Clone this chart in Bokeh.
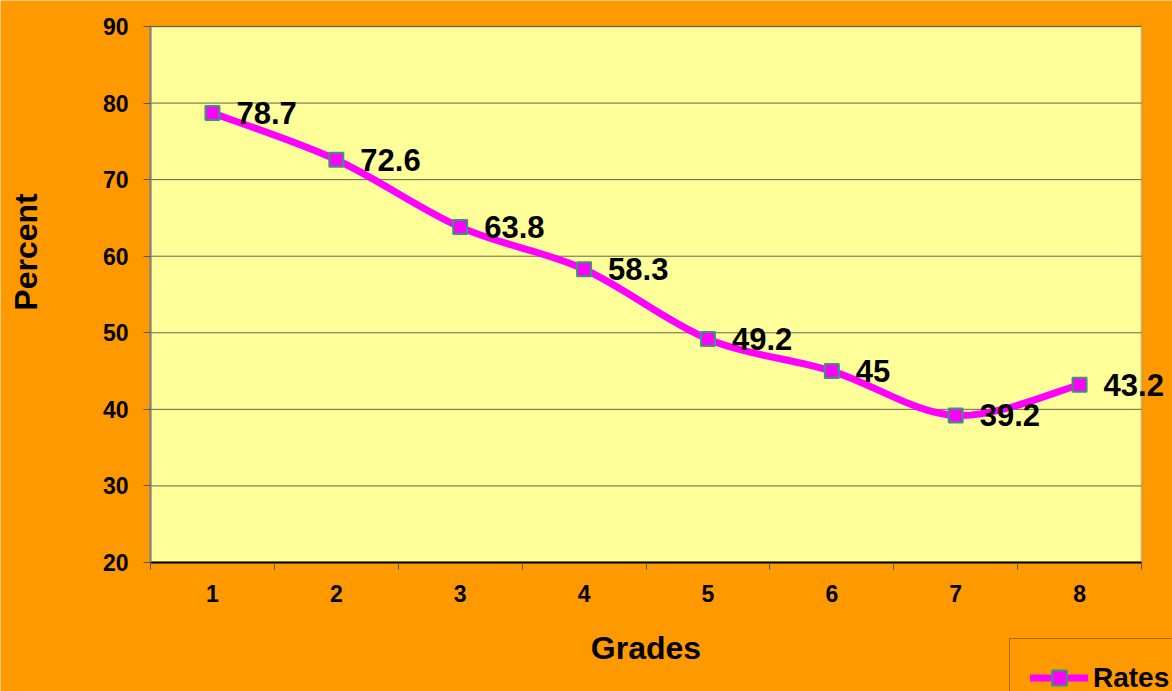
from bokeh.plotting import figure
from bokeh.models import (FixedTicker, LabelSet, ColumnDataSource, Legend, LegendItem,
                          LinearAxis, BoxAnnotation, Range1d)
from bokeh.core.properties import value
from bokeh.embed import file_html
from bokeh.resources import INLINE

# ---- data ----
grades = [1, 2, 3, 4, 5, 6, 7, 8]
rates = [78.7, 72.6, 63.8, 58.3, 49.2, 45, 39.2, 43.2]
x_tick_labels = ["1", "2", "3", "4", "5", "6", "7", "8"]
y_ticks = [20, 30, 40, 50, 60, 70, 80, 90]
series_name = "Rates"
x_title = "Grades"
y_title = "Percent"

# ---- layout / style ----
W, H = 1172, 691
PA_LEFT, PA_RIGHT, PA_TOP, PA_BOTTOM = 150, 1141, 26, 562   # plot-area pixels
X_LO, X_HI = grades[0] - 0.5, grades[-1] + 0.5
Y_LO, Y_HI = y_ticks[0], y_ticks[-1]
PERCENT_CENTER_PX = 251.5

ORANGE = "#FF9900"
PLOT_BG = "#FFFF99"
MAGENTA = "#FF00FF"
MARKER_EDGE = "#339977"
FONT = "Liberation Sans"

px_x = (PA_RIGHT - PA_LEFT) / (X_HI - X_LO)
px_y = (PA_BOTTOM - PA_TOP) / (Y_HI - Y_LO)
x_range = Range1d(X_LO - PA_LEFT / px_x, X_HI + (W - PA_RIGHT) / px_x)
y_range = Range1d(Y_LO - (H - PA_BOTTOM) / px_y, Y_HI + PA_TOP / px_y)

# smoothed (Catmull-Rom style) bezier segments derived from the data
n = len(grades)
seg = dict(x0=[], y0=[], x1=[], y1=[], cx0=[], cy0=[], cx1=[], cy1=[])
for i in range(n - 1):
    pm = max(i - 1, 0)
    pp = min(i + 2, n - 1)
    seg["x0"].append(grades[i]); seg["y0"].append(rates[i])
    seg["x1"].append(grades[i + 1]); seg["y1"].append(rates[i + 1])
    seg["cx0"].append(grades[i] + (grades[i + 1] - grades[pm]) / 6)
    seg["cy0"].append(rates[i] + (rates[i + 1] - rates[pm]) / 6)
    seg["cx1"].append(grades[i + 1] - (grades[pp] - grades[i]) / 6)
    seg["cy1"].append(rates[i + 1] - (rates[pp] - rates[i]) / 6)

p = figure(
    width=W, height=H, frame_width=W, frame_height=H,
    min_border_left=0, min_border_top=0, min_border_right=0, min_border_bottom=0,
    x_range=x_range, y_range=y_range,
    output_backend="svg", toolbar_location=None,
    background_fill_color=ORANGE, border_fill_color=ORANGE,
)
p.outline_line_color = None
p.xgrid.visible = False
p.ygrid.visible = False

# plot area
p.add_layout(BoxAnnotation(left=X_LO, right=X_HI, bottom=Y_LO, top=Y_HI,
                           fill_color=PLOT_BG, fill_alpha=1.0,
                           line_color="#808080", line_width=2.5, level="underlay"))
# horizontal gridlines at the y ticks, limited to the plot area
p.segment(x0=[X_LO] * len(y_ticks), x1=[X_HI] * len(y_ticks), y0=y_ticks, y1=y_ticks,
          line_color="#66664d", line_width=1)

# curve
p.bezier(x0="x0", y0="y0", x1="x1", y1="y1", cx0="cx0", cy0="cy0", cx1="cx1", cy1="cy1",
         source=ColumnDataSource(seg), line_color=MAGENTA, line_width=7, line_cap="round")
# legend-only line sample (a single NaN point draws nothing on the plot)
legend_line = p.line(x=[float("nan")], y=[float("nan")], line_color=MAGENTA, line_width=7,
                     line_cap="round")
src = ColumnDataSource(dict(x=grades, y=rates, lab=[f"{v:g}" for v in rates]))
pts = p.scatter(x="x", y="y", source=src, marker="square", size=14,
                fill_color=MAGENTA, line_color=MARKER_EDGE, line_width=2)

labels = LabelSet(x="x", y="y", text="lab", source=src, x_offset=24, y_offset=0,
                  text_font=value(FONT), text_font_style="bold", text_font_size="31px",
                  text_color="black", text_baseline="middle", text_align="left")
p.add_layout(labels)

# x axis (drawn at y = Y_LO)
xa = p.xaxis[0]
xa.fixed_location = Y_LO
xa.bounds = (X_LO, X_HI)
xa.ticker = FixedTicker(ticks=grades, minor_ticks=[g - 0.5 for g in grades] + [grades[-1] + 0.5])
xa.major_label_overrides = {g: t for g, t in zip(grades, x_tick_labels)}
xa.major_tick_out = 0
xa.major_tick_in = 0
xa.minor_tick_out = 7
xa.minor_tick_in = 0
xa.minor_tick_line_color = "#555555"
xa.axis_line_color = "black"
xa.axis_line_width = 2
xa.major_label_standoff = 15
xa.axis_label = x_title
xa.axis_label_standoff = 25

# y axis (drawn at x = X_LO)
ya = p.yaxis[0]
ya.fixed_location = X_LO
ya.bounds = (Y_LO, Y_HI)
ya.ticker = FixedTicker(ticks=y_ticks, minor_ticks=[])
ya.major_tick_out = 7
ya.major_tick_in = 0
ya.major_tick_line_color = "#555555"
ya.axis_line_color = "#808080"
ya.axis_line_width = 2
ya.major_label_standoff = 15

# title-only axis for "Percent" (positioned like the original)
pc = Y_HI - (PERCENT_CENTER_PX - PA_TOP) / px_y
ta = LinearAxis(fixed_location=X_LO, bounds=(pc - 5, pc + 5), ticker=FixedTicker(ticks=[], minor_ticks=[]),
                axis_line_color=None, major_tick_out=0, major_tick_in=0, minor_tick_out=0,
                minor_tick_in=0, major_label_standoff=0, axis_label=y_title,
                axis_label_standoff=107)
p.add_layout(ta, "left")

for ax in (xa, ya, ta):
    ax.major_label_text_font = FONT
    ax.major_label_text_font_style = "bold"
    ax.major_label_text_font_size = "23px"
    ax.major_label_text_color = "black"
    ax.axis_label_text_font = FONT
    ax.axis_label_text_font_style = "bold"
    ax.axis_label_text_font_size = "32px"
    ax.axis_label_text_color = "black"

legend = Legend(items=[LegendItem(label=series_name, renderers=[legend_line, pts])],
                location=(1009, -26), orientation="vertical",
                glyph_width=58, glyph_height=37, label_height=30, label_standoff=5,
                padding=20, margin=0,
                label_text_font=FONT, label_text_font_style="bold", label_text_font_size="28px",
                label_text_color="black", border_line_color="#553300", border_line_width=1,
                background_fill_color=ORANGE, background_fill_alpha=1.0)
p.add_layout(legend, "center")

html = file_html(p, INLINE)
html = html.replace("<body>", '<body style="margin:0;padding:0;overflow:hidden;background:#FF9900">', 1)
open("out.html", "w").write(html)
